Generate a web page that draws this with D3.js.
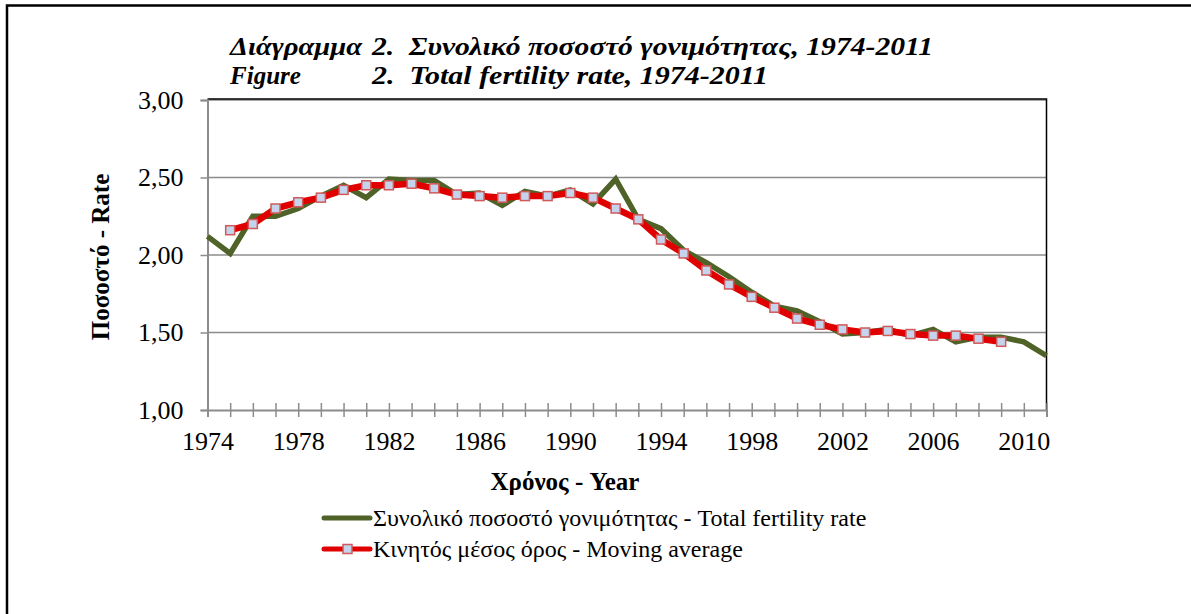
<!DOCTYPE html>
<html>
<head>
<meta charset="utf-8">
<script src="https://cdn.jsdelivr.net/npm/d3@7"></script>
<style>
  body { margin: 0; background: #fff; }
  svg text { font-family: "Liberation Serif", "Times New Roman", serif; }
</style>
</head>
<body>
<div id="chart"></div>
<script>
// total fertility rate, 1974-2011
var years = d3.range(1974, 2012);
var fertility = [2.12, 2.01, 2.25, 2.25, 2.30, 2.38, 2.45, 2.37, 2.49, 2.48,
                 2.48, 2.39, 2.40, 2.32, 2.41, 2.38, 2.42, 2.33, 2.49, 2.23,
                 2.17, 2.03, 1.95, 1.86, 1.76, 1.67, 1.64, 1.57, 1.49, 1.50,
                 1.52, 1.48, 1.52, 1.44, 1.47, 1.47, 1.44, 1.35];
// moving average, 1975-2009
var maYears = d3.range(1975, 2010);
var movingAvg = [2.16, 2.20, 2.30, 2.34, 2.37, 2.42, 2.45, 2.45, 2.46, 2.43,
                 2.39, 2.38, 2.37, 2.38, 2.38, 2.40, 2.37, 2.30, 2.23, 2.10,
                 2.01, 1.90, 1.81, 1.73, 1.66, 1.59, 1.55, 1.52, 1.50, 1.51,
                 1.49, 1.48, 1.48, 1.46, 1.44];
var yTicks = [1.0, 1.5, 2.0, 2.5, 3.0];
var xLabelYears = d3.range(1974, 2012, 4);

var width = 1191,
    height = 614;
var serif = "Liberation Serif, Times New Roman, serif";

var svg = d3.select("#chart")
    .append("svg")
    .attr("width", width)
    .attr("height", height);

// outer frame (runs off the right and bottom edge)
svg.append("rect")
    .attr("x", 7)
    .attr("y", 5.5)
    .attr("width", 1300)
    .attr("height", 800)
    .attr("fill", "none")
    .attr("stroke", "#000")
    .attr("stroke-width", 2.5);

var x = d3.scaleLinear().domain([1974, 2011]).range([207.5, 1046.5]);
var y = d3.scaleLinear().domain([1, 3]).range([410, 100]);

// gridlines
svg.append("g")
    .selectAll("line")
    .data(yTicks.slice(1))
    .enter()
    .append("line")
    .attr("x1", x(1974))
    .attr("x2", x(2011))
    .attr("y1", function (d) { return y(d); })
    .attr("y2", function (d) { return y(d); })
    .attr("stroke", "#8c8c8c")
    .attr("stroke-width", 1.5);

// plot area border top + right
svg.append("path")
    .attr("d", "M" + x(1974) + "," + (y(3) - 1) + "H" + x(2011) + "V" + y(1))
    .attr("fill", "none")
    .attr("stroke", "#000")
    .attr("stroke-width", 1.5);

// y axis
var yAxis = svg.append("g")
    .attr("transform", "translate(" + x(1974) + ",0)")
    .call(d3.axisLeft(y)
        .tickValues(yTicks)
        .tickSize(7)
        .tickPadding(17)
        .tickFormat(function (d) { return d3.format(".2f")(d).replace(".", ","); }));
yAxis.select(".domain").attr("stroke", "#8c8c8c").attr("stroke-width", 2);
yAxis.selectAll(".tick line").attr("stroke", "#8c8c8c").attr("stroke-width", 1.5);
yAxis.selectAll(".tick text")
    .attr("font-family", serif)
    .attr("font-size", 26)
    .attr("fill", "#000");

// x axis, a tick every year, label every 4 years
var xAxis = svg.append("g")
    .attr("transform", "translate(0," + y(1) + ")")
    .call(d3.axisBottom(x)
        .tickValues(years)
        .tickSize(7)
        .tickPadding(15)
        .tickFormat(function (d) { return xLabelYears.indexOf(d) >= 0 ? d : ""; }));
xAxis.select(".domain").attr("stroke", "#8c8c8c").attr("stroke-width", 2);
xAxis.selectAll(".tick line")
    .attr("y1", -7)
    .attr("y2", 7)
    .attr("stroke", "#8c8c8c")
    .attr("stroke-width", 1.5);
xAxis.selectAll(".tick text")
    .attr("font-family", serif)
    .attr("font-size", 26)
    .attr("fill", "#000");

// series lines
var line = d3.line()
    .x(function (d) { return x(d[0]); })
    .y(function (d) { return y(d[1]); });

svg.append("path")
    .datum(d3.zip(years, fertility))
    .attr("d", line)
    .attr("fill", "none")
    .attr("stroke", "#4f6228")
    .attr("stroke-width", 5.5)
    .attr("stroke-linejoin", "miter");

var maData = d3.zip(maYears, movingAvg);
svg.append("path")
    .datum(maData)
    .attr("d", line)
    .attr("fill", "none")
    .attr("stroke", "#e00000")
    .attr("stroke-width", 6.5)
    .attr("stroke-linejoin", "round");

svg.append("g")
    .selectAll("rect")
    .data(maData)
    .enter()
    .append("rect")
    .attr("x", function (d) { return x(d[0]) - 4.5; })
    .attr("y", function (d) { return y(d[1]) - 4.5; })
    .attr("width", 9)
    .attr("height", 9)
    .attr("fill", "#c6d3ec")
    .attr("stroke", "#d0595a")
    .attr("stroke-width", 1.5);

// titles, stretched to the widths seen in the picture
var titleParts = [
    { text: "Διάγραμμα", x: 230, y: 55, w: 132 },
    { text: "2.  Συνολικό ποσοστό γονιμότητας, 1974-2011", x: 372, y: 55, w: 561 },
    { text: "Figure", x: 230, y: 84, w: 71 },
    { text: "2.  Total fertility rate, 1974-2011", x: 372, y: 84, w: 396 }
];
svg.append("g")
    .selectAll("text")
    .data(titleParts)
    .enter()
    .append("text")
    .attr("x", function (d) { return d.x; })
    .attr("y", function (d) { return d.y; })
    .attr("font-family", serif)
    .attr("font-weight", "bold")
    .attr("font-style", "italic")
    .attr("font-size", 25)
    .attr("xml:space", "preserve")
    .attr("textLength", function (d) { return d.w; })
    .attr("lengthAdjust", "spacingAndGlyphs")
    .text(function (d) { return d.text; });

// axis titles
svg.append("text")
    .attr("x", 565)
    .attr("y", 490)
    .attr("text-anchor", "middle")
    .attr("font-family", serif)
    .attr("font-weight", "bold")
    .attr("font-size", 25)
    .text("Χρόνος - Year");

svg.append("text")
    .attr("transform", "translate(109,257) rotate(-90)")
    .attr("text-anchor", "middle")
    .attr("font-family", serif)
    .attr("font-weight", "bold")
    .attr("font-size", 25)
    .text("Ποσοστό - Rate");

// legend
var legendItems = [
    { label: "Συνολικό ποσοστό γονιμότητας - Total fertility rate", color: "#4f6228", marker: false },
    { label: "Κινητός μέσος όρος - Moving average", color: "#e00000", marker: true }
];
var legend = svg.append("g")
    .selectAll("g")
    .data(legendItems)
    .enter()
    .append("g")
    .attr("transform", function (d, i) { return "translate(0," + (518 + i * 31) + ")"; });
legend.append("line")
    .attr("x1", 324)
    .attr("x2", 370)
    .attr("stroke", function (d) { return d.color; })
    .attr("stroke-width", 5)
    .attr("stroke-linecap", "round");
legend.filter(function (d) { return d.marker; })
    .append("rect")
    .attr("x", 343)
    .attr("y", -4.5)
    .attr("width", 9)
    .attr("height", 9)
    .attr("fill", "#c6d3ec")
    .attr("stroke", "#d0595a")
    .attr("stroke-width", 1.5);
legend.append("text")
    .attr("x", 373)
    .attr("y", 8)
    .attr("font-family", serif)
    .attr("font-size", 24)
    .text(function (d) { return d.label; });
</script>
</body>
</html>
